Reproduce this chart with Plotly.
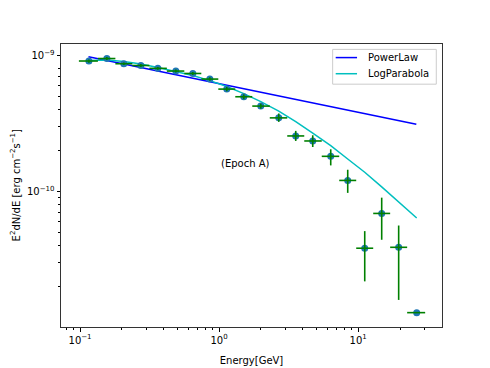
import plotly.graph_objects as go

# ---- data ----
energy = [0.1158, 0.1559, 0.2065, 0.2737, 0.3626, 0.4884, 0.6471, 0.8575, 1.136, 1.505,
          1.994, 2.685, 3.557, 4.714, 6.350, 8.413, 11.15, 14.77, 19.56, 26.36]
bin_edges = [0.0981, 0.1344, 0.1795, 0.2378, 0.3151, 0.4208, 0.5622, 0.7448, 0.9869, 1.307,
             1.732, 2.314, 3.091, 4.096, 5.472, 7.308, 9.683, 12.83, 16.99, 22.51, 30.33]
flux = [9.14e-10, 9.53e-10, 8.73e-10, 8.47e-10, 8.07e-10, 7.71e-10, 7.40e-10, 6.73e-10, 5.68e-10, 4.99e-10,
        4.26e-10, 3.49e-10, 2.57e-10, 2.36e-10, 1.82e-10, 1.21e-10, 3.84e-11, 6.92e-11, 3.90e-11, 1.29e-11]
flux_err_hi = [2.5e-11, 2.5e-11, 2.0e-11, 2.0e-11, 2.0e-11, 2.0e-11, 2.0e-11, 2.0e-11, 2.0e-11, 2.0e-11,
               1.8e-11, 2.7e-11, 2.3e-11, 2.4e-11, 2.3e-11, 2.4e-11, 1.29e-11, 2.12e-11, 1.74e-11, 0.0]
flux_err_lo = [2.5e-11, 2.5e-11, 2.0e-11, 2.0e-11, 2.0e-11, 2.0e-11, 2.0e-11, 2.0e-11, 2.0e-11, 2.0e-11,
               1.8e-11, 2.3e-11, 2.1e-11, 2.3e-11, 2.6e-11, 2.3e-11, 1.65e-11, 2.49e-11, 2.30e-11, 0.0]

powerlaw_energy = [0.1150, 26.20]
powerlaw_flux = [9.84e-10, 3.13e-10]

logparabola_flux = [9.22e-10, 9.30e-10, 9.06e-10, 8.68e-10, 8.18e-10, 7.65e-10, 7.14e-10, 6.56e-10, 5.93e-10, 5.26e-10,
                    4.59e-10, 3.91e-10, 3.27e-10, 2.69e-10, 2.18e-10, 1.74e-10, 1.39e-10, 1.085e-10, 8.41e-11, 6.41e-11]

model_names = ["PowerLaw", "LogParabola"]
model_colors = ["#0000ff", "#00bfbf"]

x_ticks = [0.1, 1, 10]
x_ticktext = ["10<sup>−1</sup>", "10<sup>0</sup>", "10<sup>1</sup>"]
x_minor = [0.08, 0.09, 0.2, 0.3, 0.4, 0.5, 0.6, 0.7, 0.8, 0.9, 2, 3, 4, 5, 6, 7, 8, 9, 20, 30]
y_ticks = [1e-10, 1e-9]
y_ticktext = ["10<sup>−10</sup>", "10<sup>−9</sup>"]
y_minor = [2e-11, 3e-11, 4e-11, 5e-11, 6e-11, 7e-11, 8e-11, 9e-11,
           2e-10, 3e-10, 4e-10, 5e-10, 6e-10, 7e-10, 8e-10]

label_text = "(Epoch A)"
x_title = "Energy[GeV]"
y_title = "E<sup>2</sup>dN/dE [erg cm<sup>−2</sup>s<sup>−1</sup>]"

# ---- figure ----
xerr_plus = [h - e for h, e in zip(bin_edges[1:], energy)]
xerr_minus = [e - l for l, e in zip(bin_edges[:-1], energy)]

fig = go.Figure()

fig.add_trace(go.Scatter(x=powerlaw_energy, y=powerlaw_flux, mode="lines", name=model_names[0],
                         showlegend=False, line=dict(color=model_colors[0], width=1.5)))
fig.add_trace(go.Scatter(x=energy, y=logparabola_flux, mode="lines", name=model_names[1],
                         showlegend=False, line=dict(color=model_colors[1], width=1.5)))

fig.add_trace(go.Scatter(x=energy, y=flux, mode="markers", showlegend=False,
                         marker=dict(color="#1f77b4", size=7)))
fig.add_trace(go.Scatter(x=energy, y=flux, mode="markers", showlegend=False,
                         marker=dict(color="rgba(0,0,0,0)", size=1),
                         error_x=dict(type="data", symmetric=False, array=xerr_plus,
                                      arrayminus=xerr_minus, color="#008000", thickness=1.6, width=0),
                         error_y=dict(type="data", symmetric=False, array=flux_err_hi,
                                      arrayminus=flux_err_lo, color="#008000", thickness=1.6, width=0)))

fig.add_annotation(x=0, y=-9.795, xref="x", yref="y", text=label_text, showarrow=False,
                   xanchor="left", yanchor="middle", font=dict(size=10, color="black"))

# y axis title (placed as rotated text so it sits where the reference has it)
fig.add_annotation(x=-0.121, y=0.5, xref="paper", yref="paper", text=y_title, showarrow=False,
                   textangle=-90, xanchor="center", yanchor="middle", font=dict(size=10, color="black"))

# legend, drawn matplotlib-style in the upper right of the axes
fig.add_shape(type="rect", xref="paper", yref="paper", x0=0.713, x1=0.985, y0=0.858, y1=0.981,
              line=dict(color="#cccccc", width=1), fillcolor="rgba(255,255,255,0.8)", layer="above")
for i, (name, color) in enumerate(zip(model_names, model_colors)):
    ly = [0.952, 0.895][i]
    fig.add_shape(type="line", xref="paper", yref="paper", x0=0.721, x1=0.777, y0=ly, y1=ly,
                  line=dict(color=color, width=1.5), layer="above")
    fig.add_annotation(x=0.8005, y=ly, xref="paper", yref="paper", text=name, showarrow=False,
                       xanchor="left", yanchor="middle", font=dict(size=10, color="black"))

axis_common = dict(showgrid=False, zeroline=False, showline=True, linecolor="#333333", linewidth=1,
                   mirror=True, ticks="outside", ticklen=3.5, tickwidth=0.8, tickcolor="black",
                   tickfont=dict(size=10, color="black"), automargin=False)

fig.update_xaxes(type="log", range=[-1.137, 1.603], tickvals=x_ticks, ticktext=x_ticktext,
                 minor=dict(tickvals=x_minor, ticks="outside", ticklen=2, tickwidth=0.6, tickcolor="black"),
                 title=dict(text=x_title, font=dict(size=10, color="black"), standoff=12),
                 **axis_common)
fig.update_yaxes(type="log", range=[-10.995, -8.914], tickvals=y_ticks, ticktext=y_ticktext,
                 minor=dict(tickvals=y_minor, ticks="outside", ticklen=2, tickwidth=0.6, tickcolor="black"),
                 **axis_common)

# the page body adds an 8 px offset, so the figure is sized/margined to compensate
fig.update_layout(
    width=482, height=360,
    margin=dict(l=53, r=48, t=36, b=41, pad=0),
    paper_bgcolor="white", plot_bgcolor="white",
    font=dict(family="DejaVu Sans", size=10, color="black"),
    showlegend=False,
)

fig.write_html("out.html")
